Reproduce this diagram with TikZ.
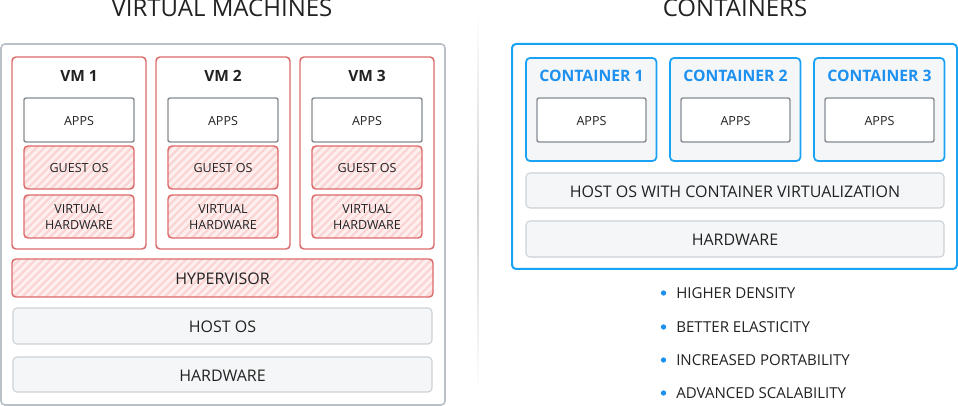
\documentclass[tikz,border=0pt]{standalone}
\usepackage{fontspec}
\setmainfont{Open Sans}
\usetikzlibrary{fit,patterns.meta}
\definecolor{vmred}{HTML}{DD6A6A}
\definecolor{stripe}{HTML}{FBD3D3}
\definecolor{stripebg}{HTML}{FEEFEF}
\definecolor{greyline}{HTML}{CDD2D7}
\definecolor{greyfill}{HTML}{F5F6F7}
\definecolor{outergrey}{HTML}{B9C0C8}
\definecolor{appsline}{HTML}{858C94}
\definecolor{cblue}{HTML}{1AA3F5}
\definecolor{ctext}{HTML}{1E90F0}
\definecolor{txt}{HTML}{222222}
\tikzset{
  x=0.75pt, y=-0.75pt,
  every node/.style={text=txt, inner sep=0pt},
  outerbox/.style={draw=outergrey, line width=1.2pt, rounded corners=3pt, fill=white},
  vmbox/.style={draw=vmred, line width=1.1pt, rounded corners=3pt, fill=white},
  appsbox/.style={draw=appsline, line width=1.1pt, rounded corners=1.5pt, fill=white},
  redbox/.style={draw=vmred, line width=1.1pt, rounded corners=3pt,
     preaction={fill=stripebg},
     pattern={Lines[angle=45, distance=4.2pt, line width=1.6pt]}, pattern color=stripe},
  greybox/.style={draw=greyline, line width=0.8pt, rounded corners=3pt, fill=greyfill},
  cbox/.style={draw=cblue, line width=1.3pt, rounded corners=3pt, fill=greyfill},
  cout/.style={draw=cblue, line width=1.5pt, rounded corners=3pt, fill=white},
  smalltext/.style={font=\fontsize{9.4}{11.8}\selectfont, align=center, yshift=-0.5pt},
  bigtext/.style={font=\fontsize{12}{14}\selectfont, yshift=-0.8pt},
  vmlabel/.style={font=\bfseries\fontsize{11.6}{13}\selectfont},
  clabel/.style={font=\bfseries\fontsize{11.8}{13}\selectfont, text=ctext},
  titletext/.style={font=\fontsize{18}{20}\selectfont, text=txt, anchor=base},
  bullettext/.style={font=\fontsize{11.3}{13}\selectfont, anchor=west},
  bulletdot/.style={circle, fill=ctext, minimum size=4pt},
}
\begin{document}
\begin{tikzpicture}
\useasboundingbox (0,0) rectangle (958,406);
% divider
\shade[top color=white, bottom color=white, middle color=gray!35] (477.6,12) rectangle (478.6,392);
% titles
\node[titletext] (t1) at (222,17) {VIRTUAL MACHINES};
\node[titletext] (t2) at (735,17) {CONTAINERS};
% left
\node[outerbox, fit={(1,44) (445,405)}] (vmouter) {};
\foreach \i/\dx in {1/0,2/144,3/288}{
  \node[vmbox, fit={(12+\dx,57) (146+\dx,249)}] (vm\i) {};
  \node[vmlabel] (vml\i) at (79+\dx,76) {VM \i};
  \node[appsbox, fit={(24+\dx,98) (134+\dx,142)}] (apps\i) {};
  \node[smalltext] (appst\i) at (apps\i.center) {APPS};
  \node[redbox, fit={(24+\dx,146) (134+\dx,189)}] (guest\i) {};
  \node[smalltext] (guestt\i) at (guest\i.center) {GUEST OS};
  \node[redbox, fit={(24+\dx,195) (134+\dx,238)}] (vhw\i) {};
  \node[smalltext] (vhwt\i) at (vhw\i.center) {VIRTUAL\\HARDWARE};
}
\node[redbox, fit={(12,259) (433,297)}] (hyp) {};
\node[bigtext] (hypt) at (hyp.center) {HYPERVISOR};
\node[greybox, fit={(13,308) (432,344)}] (hostos) {};
\node[bigtext] (hostost) at (hostos.center) {HOST OS};
\node[greybox, fit={(13,357) (432,392)}] (hw) {};
\node[bigtext] (hwt) at (hw.center) {HARDWARE};
% right
\node[cout, fit={(512,44) (957,269)}] (couter) {};
\foreach \i/\x in {1/526,2/670,3/814}{
  \node[cbox, fit={(\x,58) (\x+130.5,161)}] (c\i) {};
  \node[clabel] (cl\i) at (\x+65.5,76) {CONTAINER \i};
  \node[appsbox, fit={(\x+11,98) (\x+120,142)}] (capps\i) {};
  \node[smalltext] (cappst\i) at (capps\i.center) {APPS};
}
\node[greybox, fit={(526,173) (944,208)}] (chost) {};
\node[bigtext] (chostt) at (chost.center) {HOST OS WITH CONTAINER VIRTUALIZATION};
\node[greybox, fit={(526,221) (944,257)}] (chw) {};
\node[bigtext] (chwt) at (chw.center) {HARDWARE};
% bullets
\foreach \y/\t [count=\k] in {293/HIGHER DENSITY,327/BETTER ELASTICITY,360/INCREASED PORTABILITY,393/ADVANCED SCALABILITY}{
  \node[bulletdot] (d\k) at (663.5,\y) {};
  \node[bullettext] (b\k) at (676,\y) {\t};
}
\end{tikzpicture}
\end{document}
